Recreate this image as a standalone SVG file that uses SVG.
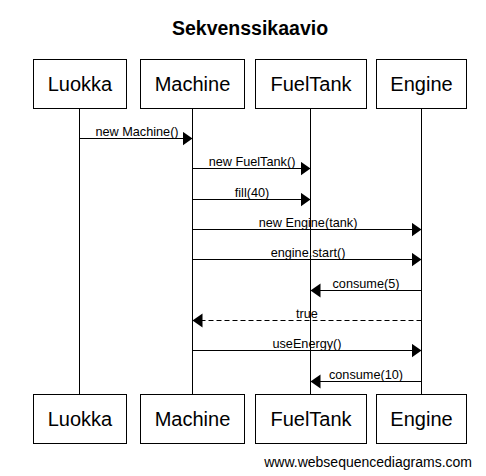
<svg xmlns="http://www.w3.org/2000/svg" width="486" height="476" viewBox="0 0 486 476">
<defs>
<marker id="ah" markerUnits="userSpaceOnUse" markerWidth="11" markerHeight="15" refX="10" refY="7" orient="auto" viewBox="0 0 11 15">
<path d="M0,0 L10,7 L0,14 z" fill="#000"/>
</marker>
<style>
.box{fill:#fff;stroke:#000;stroke-width:1}
.nl{font-family:"Liberation Sans",Arial,sans-serif;font-size:20px;text-anchor:middle;fill:#000}
.life{stroke:#000;stroke-width:1}
.msg{stroke:#000;stroke-width:1;fill:none;marker-end:url(#ah)}
.ret{stroke-dasharray:5,3}
.ml{font-family:"Liberation Sans",Arial,sans-serif;font-size:12.7px;text-anchor:middle;fill:#000}
</style>
</defs>
<rect width="486" height="476" fill="#fff"/>
<text x="250" y="35" font-family="'Liberation Sans',Arial,sans-serif" font-size="19.5" font-weight="bold" text-anchor="middle">Sekvenssikaavio</text>
<g id="lifelines">
<line class="life" x1="79.5" y1="108" x2="79.5" y2="395"/>
<line class="life" x1="192.5" y1="108" x2="192.5" y2="395"/>
<line class="life" x1="310.5" y1="108" x2="310.5" y2="395"/>
<line class="life" x1="421.5" y1="108" x2="421.5" y2="395"/>
</g>
<g id="Luokka">
<rect class="box" x="33.5" y="59.5" width="93" height="49"/>
<text class="nl" x="80" y="91">Luokka</text>
<rect class="box" x="33.5" y="394.5" width="93" height="49"/>
<text class="nl" x="80" y="426">Luokka</text>
</g>
<g id="Machine">
<rect class="box" x="140.5" y="59.5" width="104" height="49"/>
<text class="nl" x="192.5" y="91">Machine</text>
<rect class="box" x="140.5" y="394.5" width="104" height="49"/>
<text class="nl" x="192.5" y="426">Machine</text>
</g>
<g id="FuelTank">
<rect class="box" x="255.5" y="59.5" width="111" height="49"/>
<text class="nl" x="311" y="91">FuelTank</text>
<rect class="box" x="255.5" y="394.5" width="111" height="49"/>
<text class="nl" x="311" y="426">FuelTank</text>
</g>
<g id="Engine">
<rect class="box" x="376.5" y="59.5" width="90" height="49"/>
<text class="nl" x="421.5" y="91">Engine</text>
<rect class="box" x="376.5" y="394.5" width="90" height="49"/>
<text class="nl" x="421.5" y="426">Engine</text>
</g>
<g id="connectors">
<line class="msg" x1="79.5" y1="138.5" x2="192.5" y2="138.5"/>
<text class="ml" x="137" y="135.5">new Machine()</text>
<line class="msg" x1="192.5" y1="168.5" x2="310.5" y2="168.5"/>
<text class="ml" x="252" y="165.5">new FuelTank()</text>
<line class="msg" x1="192.5" y1="199.5" x2="310.5" y2="199.5"/>
<text class="ml" x="252" y="196.5">fill(40)</text>
<line class="msg" x1="192.5" y1="229.5" x2="421.5" y2="229.5"/>
<text class="ml" x="308" y="226.5">new Engine(tank)</text>
<line class="msg" x1="192.5" y1="259.5" x2="421.5" y2="259.5"/>
<text class="ml" x="308" y="256.5">engine.start()</text>
<line class="msg" x1="421.5" y1="290.5" x2="310.5" y2="290.5"/>
<text class="ml" x="366" y="287.5">consume(5)</text>
<line class="msg ret" x1="421.5" y1="320.5" x2="192.5" y2="320.5"/>
<text class="ml" x="307" y="317.5">true</text>
<line class="msg" x1="192.5" y1="350.5" x2="421.5" y2="350.5"/>
<text class="ml" x="307" y="347.5">useEnergy()</text>
<line class="msg" x1="421.5" y1="381.5" x2="310.5" y2="381.5"/>
<text class="ml" x="366" y="378.5">consume(10)</text>
</g>
<text x="472" y="467" font-family="'Liberation Sans',Arial,sans-serif" font-size="14" text-anchor="end">www.websequencediagrams.com</text>
</svg>
